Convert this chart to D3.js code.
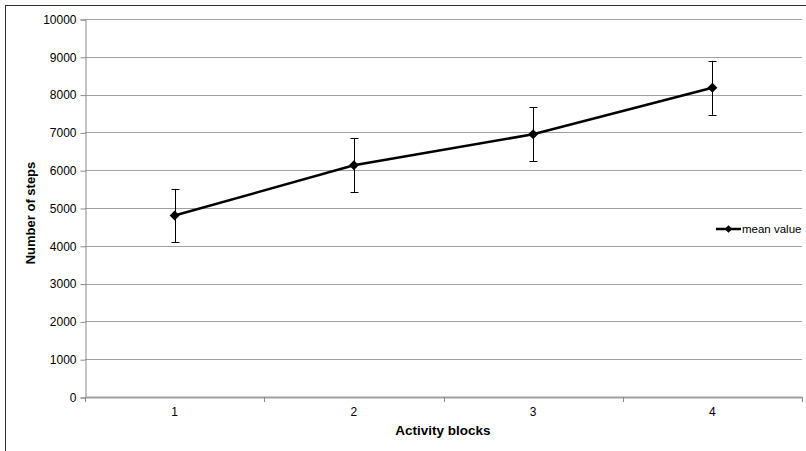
<!DOCTYPE html>
<html>
<head>
<meta charset="utf-8">
<script src="https://cdn.jsdelivr.net/npm/d3@7"></script>
<style>
  body { margin: 0; background: #fff; }
  svg { font-family: "Liberation Sans", Arial, sans-serif; }
</style>
</head>
<body>
<svg id="chart" width="806" height="451"></svg>
<script>
// values
var blocks = ["1", "2", "3", "4"];
var means = [4800, 6130, 6950, 8180];
var errors = [705, 715, 710, 715];
var yTicks = [0, 1000, 2000, 3000, 4000, 5000, 6000, 7000, 8000, 9000, 10000];

var svg = d3.select("#chart"),
    plotL = 85, plotR = 802, plotT = 19, plotB = 397;

// outer frame (clipped by the window on the right and bottom)
svg.append("rect")
    .attr("x", 5.5).attr("y", 5.5)
    .attr("width", 820).attr("height", 470)
    .attr("fill", "none").attr("stroke", "#333").attr("stroke-width", 1);

var x = d3.scaleBand().domain(blocks).range([plotL, plotR]).padding(0);
var y = d3.scaleLinear().domain([0, 10000]).range([plotB, plotT]);

// gridlines
svg.append("g").selectAll("line")
    .data(yTicks.slice(1))
    .enter().append("line")
    .attr("x1", plotL).attr("x2", plotR)
    .attr("y1", function(d) { return Math.round(y(d)) + 0.5; })
    .attr("y2", function(d) { return Math.round(y(d)) + 0.5; })
    .attr("stroke", "#a0a0a0");

// y axis
var yAxis = svg.append("g")
    .attr("transform", "translate(" + (plotL + 0.5) + ",0.5)")
    .call(d3.axisLeft(y).tickValues(yTicks).tickSize(5).tickPadding(4).tickFormat(d3.format("d")));
yAxis.select(".domain").attr("stroke", "#8a8a8a");
yAxis.selectAll(".tick line").attr("stroke", "#8a8a8a");
yAxis.selectAll("text").attr("font-size", 12).attr("fill", "#000")
    .attr("font-family", "Liberation Sans, Arial, sans-serif");

// x axis: ticks between categories
var edges = blocks.map(function(b) { return x(b); }).concat([plotR]);
var xg = svg.append("g");
xg.append("line")
    .attr("x1", plotL).attr("x2", plotR)
    .attr("y1", plotB + 0.5).attr("y2", plotB + 0.5)
    .attr("stroke", "#a0a0a0").attr("stroke-width", 2);
xg.selectAll(".xt").data(edges).enter().append("line")
    .attr("class", "xt")
    .attr("x1", function(d) { return Math.round(d) + 0.5; })
    .attr("x2", function(d) { return Math.round(d) + 0.5; })
    .attr("y1", plotB).attr("y2", plotB + 5)
    .attr("stroke", "#8a8a8a");
xg.selectAll(".xl").data(blocks).enter().append("text")
    .attr("x", function(d) { return x(d) + x.bandwidth() / 2; })
    .attr("y", 416)
    .attr("text-anchor", "middle")
    .attr("font-size", 12)
    .attr("fill", "#000")
    .text(function(d) { return d; });

// axis titles
svg.append("text")
    .attr("x", 443).attr("y", 435)
    .attr("text-anchor", "middle")
    .attr("font-size", 13.5).attr("font-weight", "bold")
    .text("Activity blocks");
svg.append("text")
    .attr("transform", "translate(35,213) rotate(-90)")
    .attr("text-anchor", "middle")
    .attr("font-size", 13).attr("font-weight", "bold")
    .text("Number of steps");

var cx = function(i) { return x(blocks[i]) + x.bandwidth() / 2; };

// error bars
var eb = svg.append("g").attr("stroke", "#000").attr("stroke-width", 1);
means.forEach(function(m, i) {
    var xi = Math.round(cx(i)) + 0.5;
    eb.append("line").attr("x1", xi).attr("x2", xi)
        .attr("y1", y(m + errors[i])).attr("y2", y(m - errors[i]));
    [m + errors[i], m - errors[i]].forEach(function(v) {
        eb.append("line").attr("x1", xi - 4).attr("x2", xi + 4)
            .attr("y1", Math.round(y(v)) + 0.5).attr("y2", Math.round(y(v)) + 0.5);
    });
});

// mean line
var line = d3.line()
    .x(function(d, i) { return cx(i); })
    .y(function(d) { return y(d); });
svg.append("path")
    .datum(means)
    .attr("d", line)
    .attr("fill", "none").attr("stroke", "#000").attr("stroke-width", 2.5);

var diamond = d3.symbol().type(d3.symbolSquare).size(50);
svg.selectAll(".pt").data(means).enter().append("path")
    .attr("class", "pt")
    .attr("d", diamond)
    .attr("transform", function(d, i) { return "translate(" + cx(i) + "," + y(d) + ") rotate(45)"; })
    .attr("fill", "#000");

// legend
var lg = svg.append("g").attr("transform", "translate(716,229)");
lg.append("line").attr("x1", 0).attr("x2", 25).attr("y1", 0).attr("y2", 0)
    .attr("stroke", "#000").attr("stroke-width", 2.5);
lg.append("path").attr("d", d3.symbol().type(d3.symbolSquare).size(30))
    .attr("transform", "translate(12.5,0) rotate(45)").attr("fill", "#000");
lg.append("text").attr("x", 26).attr("y", 4).attr("font-size", 11.5).attr("fill", "#000").text("mean value");
</script>
</body>
</html>
